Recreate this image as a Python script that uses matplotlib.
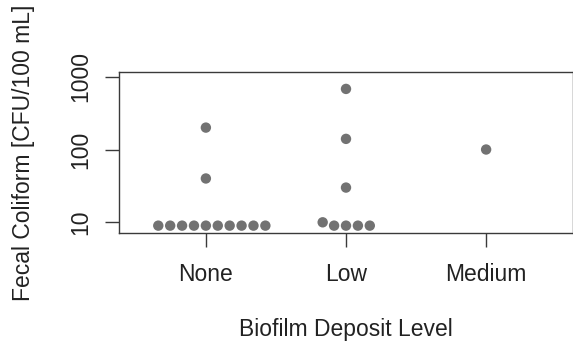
import numpy as np
import matplotlib
matplotlib.use("Agg")
import matplotlib.pyplot as plt

plt.rcParams["font.family"] = ["Liberation Sans", "DejaVu Sans"]

# Fecal coliform counts per biofilm deposit level
levels = ["None", "Low", "Medium"]
none_vals = [9, 9, 9, 9, 9, 9, 9, 9, 9, 9, 40, 200]
low_vals = [9, 9, 9, 9, 10, 30, 140, 680]
medium_vals = [100]
groups = [none_vals, low_vals, medium_vals]

y_ticks = [10, 100, 1000]
y_tick_labels = ["10", "100", "1000"]

fig = plt.figure(figsize=(5.73, 3.5), dpi=100)
ax = fig.add_axes([119 / 573, 1 - 233 / 350, 454 / 573, 161 / 350])
ax.set_yscale("log")
ax.set_xlim(0.38, 3.62)
ax.set_ylim(7.13, 1161)

dot_px = 11.9  # swarm spacing in pixels


def swarm_offsets(xc, vals):
    """Place points of one group side by side so they don't overlap."""
    order = np.argsort(vals, kind="stable")
    pix = ax.transData.transform([(xc, v) for v in vals])
    placed = []  # (dx, y) in pixels
    xs = np.zeros(len(vals))
    for i in order:
        y = pix[i, 1]
        cands = [0.0]
        for px, py in placed:
            dy = abs(py - y)
            if dy < dot_px:
                h = np.sqrt(dot_px ** 2 - dy ** 2)
                cands += [px + h, px - h]
        ok = []
        for c in cands:
            if all((c - px) ** 2 + (y - py) ** 2 >= dot_px ** 2 - 1e-6 for px, py in placed):
                ok.append(c)
        ok.sort(key=lambda c: (round(abs(c), 6), -c))
        best = ok[0]
        placed.append((best, y))
        xs[i] = best
    out = []
    for i, v in enumerate(vals):
        data_x = ax.transData.inverted().transform((pix[i, 0] + xs[i], pix[i, 1]))[0]
        out.append(data_x)
    return out


for k, vals in enumerate(groups):
    xs = swarm_offsets(k + 1, vals)
    ax.scatter(xs, vals, s=56, color="#727272", edgecolors="none", zorder=3, clip_on=False)

edge = "#3a3a3a"
for sp in ax.spines.values():
    sp.set_color(edge)
    sp.set_linewidth(1.0)

fs = 16.5
ax.set_xticks([1, 2, 3])
ax.set_xticklabels(levels)
ax.yaxis.set_major_locator(matplotlib.ticker.FixedLocator(y_ticks))
ax.yaxis.set_minor_locator(matplotlib.ticker.NullLocator())
ax.set_yticklabels(y_tick_labels, rotation=90, va="center")

ax.tick_params(axis="both", direction="out", length=10, width=1.0, color=edge,
               labelsize=fs, labelcolor="#222222")
ax.tick_params(axis="x", pad=11.5)
ax.tick_params(axis="y", pad=9.4)

ax.set_xlabel("Biofilm Deposit Level", fontsize=fs, color="#222222")
ax.set_ylabel("Fecal Coliform [CFU/100 mL]", fontsize=fs, color="#222222")
ax.xaxis.set_label_coords(0.5, -0.531)
ax.yaxis.set_label_coords(-0.185, 0.5)

fig.savefig("out.png", dpi=100)
